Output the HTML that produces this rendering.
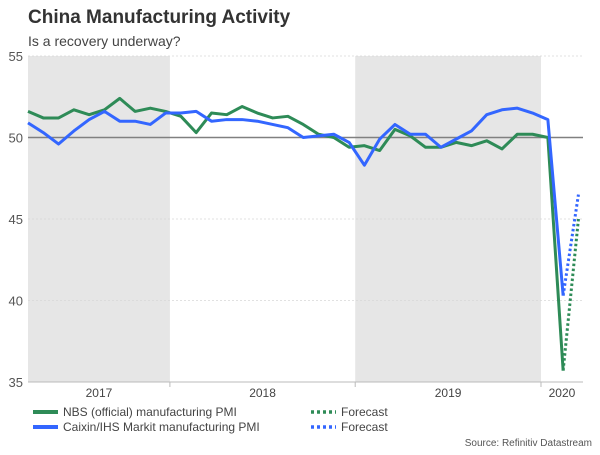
<!DOCTYPE html>
<html><head><meta charset="utf-8"><style>
body{margin:0;background:#fff;font-family:"Liberation Sans",sans-serif}
svg text{font-family:"Liberation Sans",sans-serif}
</style></head><body>
<svg width="600" height="450">
<script>
const nbs=[51.6,51.2,51.2,51.7,51.4,51.7,52.4,51.6,51.8,51.6,51.3,50.3,51.5,51.4,51.9,51.5,51.2,51.3,50.8,50.2,50.0,49.4,49.5,49.2,50.5,50.1,49.4,49.4,49.7,49.5,49.8,49.3,50.2,50.2,50.0,35.7];
const caixin=[50.9,50.3,49.6,50.4,51.1,51.6,51.0,51.0,50.8,51.5,51.5,51.6,51.0,51.1,51.1,51.0,50.8,50.6,50.0,50.1,50.2,49.7,48.3,49.9,50.8,50.2,50.2,49.4,49.9,50.4,51.4,51.7,51.8,51.5,51.1,40.3];
const nbsForecast=[35.7,45.0];
const caixinForecast=[40.3,46.5];
const yTicks=[35,40,45,50,55];
const years=["2017","2018","2019","2020"];
const yearStarts=[-0.75,9.28,21.4,33.55,36.6];
</script>
<text x="28" y="23" font-size="19" font-weight="bold" fill="#333">China Manufacturing Activity</text>
<text x="28" y="46" font-size="14" fill="#444">Is a recovery underway?</text>
<g id="plot"></g>
<g>
<line x1="33" y1="412" x2="58" y2="412" stroke="#2e8b57" stroke-width="4"/>
<text x="63" y="416" font-size="12" fill="#444">NBS (official) manufacturing PMI</text>
<line x1="33" y1="427" x2="58" y2="427" stroke="#3366ff" stroke-width="4"/>
<text x="63" y="431" font-size="12" fill="#444">Caixin/IHS Markit manufacturing PMI</text>
<line x1="311" y1="412" x2="336" y2="412" stroke="#2e8b57" stroke-width="3.5" stroke-dasharray="3,3"/>
<text x="341" y="416" font-size="12" fill="#444">Forecast</text>
<line x1="311" y1="427" x2="336" y2="427" stroke="#3366ff" stroke-width="3.5" stroke-dasharray="3,3"/>
<text x="341" y="431" font-size="12" fill="#444">Forecast</text>
</g>
<text x="592" y="446" font-size="10" fill="#555" text-anchor="end">Source: Refinitiv Datastream</text>
<script>
const NS="http://www.w3.org/2000/svg";
const L=28,R=583,T=56,B=382,W=15.29;
const xs=i=>L+i*W;
const ys=v=>B-(v-35)*(B-T)/20;
const g=document.getElementById('plot');
function mk(tag,a){const e=document.createElementNS(NS,tag);for(const k in a)e.setAttribute(k,a[k]);g.appendChild(e);return e;}
[0,2].forEach(k=>{const x1=Math.max(L,xs(yearStarts[k])),x2=xs(yearStarts[k+1]);
const r=mk('rect',{x:x1,y:T,width:x2-x1,height:B-T,fill:'#e6e6e6'});

});
yTicks.forEach(v=>{
const ln=mk('line',{x1:L,x2:R,y1:ys(v),y2:ys(v),stroke:v==50?'#808080':'#d8d8d8','stroke-width':v==50?1.6:0.8,'stroke-dasharray':v==50?'':'2,2'});


const t=mk('text',{x:L-5,y:ys(v)+5,'font-size':13,fill:'#555','text-anchor':'end'});t.textContent=v;

});
const ax=mk('line',{x1:L,x2:R,y1:B,y2:B,stroke:'#bbb','stroke-width':1});


years.forEach((y,k)=>{
const a=Math.max(L,xs(yearStarts[k])),b=Math.min(R,xs(yearStarts[k+1]));
if(k>0){const tk=mk('line',{x1:a,x2:a,y1:B,y2:B+5,stroke:'#bbb'});

}
const t=mk('text',{x:(a+b)/2,y:B+15,'font-size':12,fill:'#444','text-anchor':'middle'});t.textContent=y;

});
function line(arr,off,col,dash,name){
const p=mk('polyline',{points:arr.map((v,i)=>xs(i+off)+','+ys(v)).join(' '),fill:'none',stroke:col,'stroke-width':3,'stroke-dasharray':dash?'2.5,2.5':'','stroke-linejoin':'round'});

}
line(nbs,0,'#2e8b57',false,'nbs-line');
line(caixin,0,'#3366ff',false,'caixin-line');
line(nbsForecast,35,'#2e8b57',true,'nbs-forecast-line');
line(caixinForecast,35,'#3366ff',true,'caixin-forecast-line');
</script>
</svg>
</body></html>
